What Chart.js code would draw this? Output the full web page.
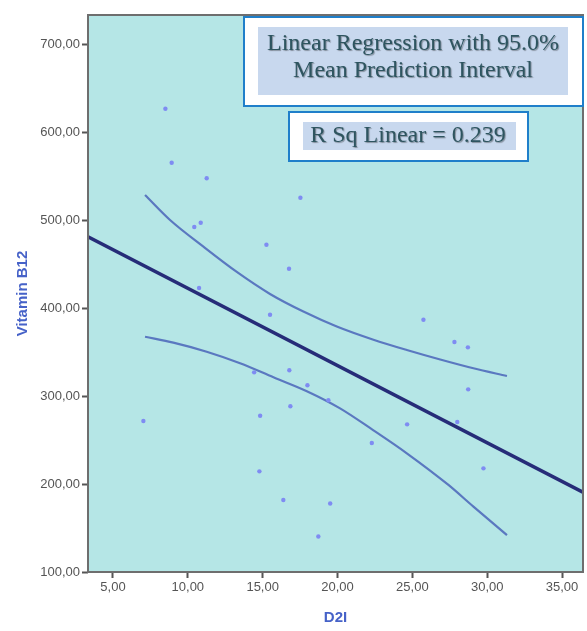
<!DOCTYPE html>
<html>
<head>
<meta charset="utf-8">
<script src="https://cdn.jsdelivr.net/npm/chart.js@4"></script>
<style>
  html, body { margin: 0; padding: 0; background: #fff; }
  #wrap { width: 587px; height: 631px; }
</style>
</head>
<body>
<div id="wrap"><canvas id="scatterChart" width="587" height="631"></canvas></div>
<script>
// observed values (D2I, Vitamin B12)
const d2i = [8.5, 8.92, 11.26, 17.52, 10.43, 10.86, 15.25, 16.76, 10.75, 15.49,
  14.43, 16.78, 17.99, 19.39, 16.85, 14.83, 7.03, 14.78, 16.38, 19.51,
  18.72, 25.74, 27.81, 28.71, 28.73, 28.0, 24.65, 22.29, 29.75];
const vitB12 = [626.5, 565.1, 547.4, 525.3, 492.0, 496.9, 471.9, 444.7, 422.7, 392.4,
  326.9, 329.2, 312.2, 295.2, 288.3, 277.6, 271.6, 214.4, 181.8, 177.8,
  140.3, 386.7, 361.4, 355.3, 307.6, 270.5, 267.8, 246.6, 217.8];

// fit line
const fitX = [3.33, 36.55];
const fitY = [481.0, 189.4];

// 95% mean prediction interval
const upperX = [7.14, 8.81, 11.04, 13.27, 15.49, 17.72, 19.95, 22.40, 24.63, 26.86, 29.08, 31.32];
const upperY = [528.4, 500.0, 469.7, 441.0, 416.0, 396.0, 379.0, 364.0, 352.3, 341.5, 331.5, 322.7];
const lowerX = [7.14, 9.03, 11.26, 13.49, 15.72, 17.95, 20.17, 22.40, 24.63, 27.41, 29.08, 31.32];
const lowerY = [367.4, 360.6, 350.3, 337.2, 321.3, 305.5, 286.0, 261.0, 234.9, 198.9, 174.2, 142.0];

const xTicks = [5, 10, 15, 20, 25, 30, 35];
const yTicks = [100, 200, 300, 400, 500, 600, 700];

const toXY = (xs, ys) => xs.map((x, i) => ({ x: x, y: ys[i] }));
const fmt = (v) => v.toFixed(2).replace(".", ",");

const plotFrame = {
  id: "plotFrame",
  beforeDatasetsDraw(chart) {
    const { ctx, chartArea: a } = chart;
    ctx.save();
    ctx.fillStyle = "#b5e6e6";
    ctx.fillRect(a.left, a.top, a.right - a.left, a.bottom - a.top);
    ctx.restore();
  },
  afterDraw(chart) {
    const { ctx, chartArea: a } = chart;
    ctx.save();
    ctx.strokeStyle = "#6e6e6e";
    ctx.lineWidth = 2;
    ctx.strokeRect(a.left, a.top, a.right - a.left, a.bottom - a.top);

    // legend boxes
    const box = (x1, y1, x2, y2, hx1, hy1, hx2, hy2) => {
      ctx.fillStyle = "#ffffff";
      ctx.fillRect(x1, y1, x2 - x1, y2 - y1);
      ctx.strokeStyle = "#1f7fca";
      ctx.lineWidth = 2;
      ctx.strokeRect(x1, y1, x2 - x1, y2 - y1);
      ctx.fillStyle = "#c8d8ee";
      ctx.fillRect(hx1, hy1, hx2 - hx1, hy2 - hy1);
    };
    box(244, 17, 583, 106, 258, 27, 568, 95);
    box(289, 112, 528, 161, 303, 122, 516, 150);

    ctx.font = "24px 'Liberation Serif', 'Times New Roman', serif";
    ctx.textAlign = "center";
    ctx.textBaseline = "middle";
    ctx.shadowColor = "rgba(0,0,0,0.35)";
    ctx.shadowOffsetX = 1;
    ctx.shadowOffsetY = 1;
    ctx.shadowBlur = 1;
    ctx.fillStyle = "#2e5560";
    ctx.fillText("Linear Regression with 95.0%", 413, 44);
    ctx.fillText("Mean Prediction Interval", 413, 71);
    ctx.fillText("R Sq Linear = 0.239", 408, 136);
    ctx.restore();
  }
};

const ctx = document.querySelector("#scatterChart").getContext("2d");

const scatter = new Chart(ctx, {
  type: "scatter",
  data: {
    datasets: [
      {
        label: "Observed",
        data: toXY(d2i, vitB12),
        backgroundColor: "#7f8cf2",
        borderWidth: 0,
        pointRadius: 2.2,
        order: 0,
      },
      {
        label: "Fit",
        type: "line",
        data: toXY(fitX, fitY),
        borderColor: "#262c78",
        borderWidth: 3.5,
        pointRadius: 0,
        fill: false,
        order: 1,
      },
      {
        label: "Upper",
        type: "line",
        data: toXY(upperX, upperY),
        borderColor: "#5a78c0",
        borderWidth: 2.2,
        pointRadius: 0,
        cubicInterpolationMode: "monotone",
        fill: false,
        order: 2,
      },
      {
        label: "Lower",
        type: "line",
        data: toXY(lowerX, lowerY),
        borderColor: "#5a78c0",
        borderWidth: 2.2,
        pointRadius: 0,
        cubicInterpolationMode: "monotone",
        fill: false,
        order: 2,
      },
    ],
  },
  options: {
    responsive: false,
    animation: false,
    layout: {
      padding: { top: 15, right: 4, bottom: 0, left: 0 },
    },
    plugins: {
      legend: { display: false },
      tooltip: { enabled: false },
      title: { display: false },
    },
    scales: {
      x: {
        type: "linear",
        min: 3.33,
        max: 36.4,
        afterBuildTicks: (scale) => {
          scale.ticks = xTicks.map((v) => ({ value: v }));
        },
        afterFit: (scale) => {
          scale.height = 59;
        },
        grid: {
          drawOnChartArea: false,
          tickLength: 6,
          tickColor: "#555",
          tickWidth: 2,
        },
        border: { display: false },
        ticks: {
          callback: (v) => fmt(v),
          color: "#555",
          font: { family: "Arial, 'Liberation Sans', sans-serif", size: 13 },
          padding: 2,
          maxRotation: 0,
        },
        title: {
          display: true,
          text: "D2I",
          color: "#4662c8",
          font: { family: "Arial, 'Liberation Sans', sans-serif", size: 15, weight: "bold" },
          padding: { top: 11 },
        },
      },
      y: {
        type: "linear",
        min: 100,
        max: 733,
        afterBuildTicks: (scale) => {
          scale.ticks = yTicks.map((v) => ({ value: v }));
        },
        afterFit: (scale) => {
          scale.width = 88;
        },
        grid: {
          drawOnChartArea: false,
          tickLength: 6,
          tickColor: "#555",
          tickWidth: 2,
        },
        border: { display: false },
        ticks: {
          callback: (v) => fmt(v),
          color: "#555",
          font: { family: "Arial, 'Liberation Sans', sans-serif", size: 13 },
          padding: 2,
        },
        title: {
          display: true,
          text: "Vitamin B12",
          color: "#4662c8",
          font: { family: "Arial, 'Liberation Sans', sans-serif", size: 15, weight: "bold" },
          padding: { top: 14, bottom: 0 },
        },
      },
    },
  },
  plugins: [plotFrame],
});
</script>
</body>
</html>
